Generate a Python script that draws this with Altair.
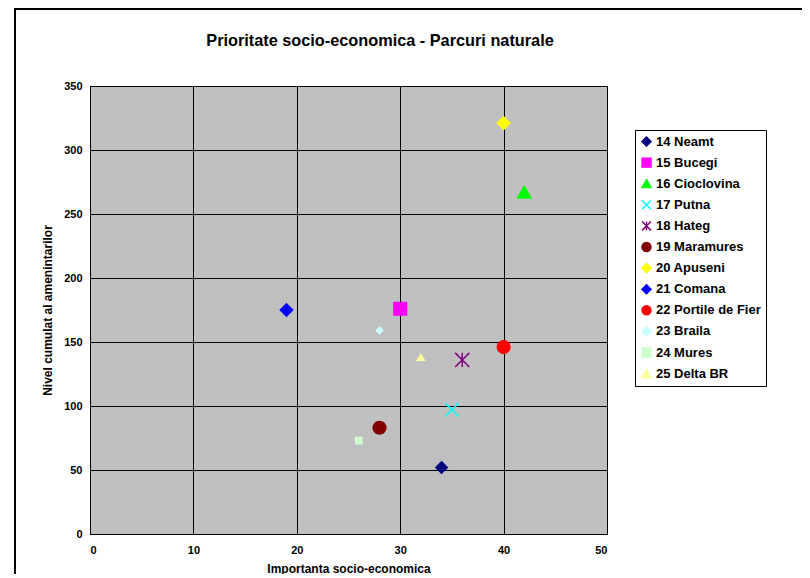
import altair as alt
import pandas as pd

names = ["14 Neamt", "15 Bucegi", "16 Cioclovina", "17 Putna", "18 Hateg", "19 Maramures",
         "20 Apuseni", "21 Comana", "22 Portile de Fier", "23 Braila", "24 Mures", "25 Delta BR"]
importanta = [34, 30, 42, 35, 36, 28, 40, 19, 40, 28, 26, 32]
nivel = [52, 176, 267, 97, 136, 83, 321, 175, 146, 159, 73, 138]
colors = ["#000080", "#FF00FF", "#00FF00", "#00FFFF", "#800080", "#800000",
          "#FFFF00", "#0000FF", "#FF0000", "#CCFFFF", "#CCFFCC", "#FFFF99"]
shapes = ["diamond", "square", "triangle-up", "M-1,-1L1,1M-1,1L1,-1",
          "M-1,-1L1,1M-1,1L1,-1M0,-1L0,1", "circle", "diamond", "diamond",
          "circle", "diamond", "square", "triangle-up"]
sizes = [130, 160, 180, 180, 200, 160, 160, 150, 160, 40, 40, 45]
title_text = "Prioritate socio-economica - Parcuri naturale"

df = pd.DataFrame({"name": names, "x": importanta, "y": nivel, "sz": sizes})

F = "Liberation Sans"

frame = alt.Chart(pd.DataFrame({"a": [0]})).mark_rect(
    filled=False, stroke="black", strokeWidth=2
).encode(x=alt.value(-75), x2=alt.value(900), y=alt.value(-77), y2=alt.value(700))

title = alt.Chart(pd.DataFrame({"t": [title_text]})).mark_text(
    font=F, fontSize=16.3, fontWeight="bold", color="black", align="center", baseline="alphabetic"
).encode(text="t:N", x=alt.value(290), y=alt.value(-40))

base = alt.Chart(df)

points = base.mark_point(filled=True, opacity=1, strokeWidth=1.5).encode(
    x=alt.X("x:Q", scale=alt.Scale(domain=[0, 50]),
            axis=alt.Axis(values=[0, 10, 20, 30, 40, 50], title="Importanta socio-economica",
                          labelFont=F, labelFontWeight="bold", labelFontSize=11,
                          labelColor="black", labelPadding=10, ticks=False,
                          titleFont=F, titleFontWeight="bold", titleFontSize=12,
                          titleColor="black", titlePadding=8,
                          domainColor="black", gridColor="black", gridOpacity=1)),
    y=alt.Y("y:Q", scale=alt.Scale(domain=[0, 350]),
            axis=alt.Axis(values=[0, 50, 100, 150, 200, 250, 300, 350],
                          title="Nivel cumulat al amenintarilor",
                          labelFont=F, labelFontWeight="bold", labelFontSize=11,
                          labelColor="black", labelPadding=8, ticks=False,
                          titleFont=F, titleFontWeight="bold", titleFontSize=12,
                          titleColor="black", titlePadding=9,
                          domainColor="black", gridColor="black", gridOpacity=1)),
    fill=alt.Fill("name:N", scale=alt.Scale(domain=names, range=colors), title=None),
    stroke=alt.Stroke("name:N", scale=alt.Scale(domain=names, range=colors), title=None),
    shape=alt.Shape("name:N", scale=alt.Scale(domain=names, range=shapes), title=None),
    size=alt.Size("sz:Q", scale=None, legend=None),
)

chart = alt.layer(frame, title, points).properties(
    width=517, height=448,
    padding={"left": 82, "top": 78, "right": 195, "bottom": 40},
    autosize=alt.AutoSizeParams(type="none"),
    background="white",
).configure_view(
    fill="#C0C0C0", stroke=None
).configure_axis(
    domainWidth=1, gridWidth=1
).configure_legend(
    orient="none", legendX=545, legendY=44,
    strokeColor="black", fillColor="white", padding=5, cornerRadius=0,
    labelFont=F, labelFontWeight="bold", labelFontSize=13, labelColor="black",
    labelOffset=3, symbolSize=80, symbolStrokeWidth=1.5, rowPadding=6.1,
    symbolOpacity=1
)

chart.save("out.html", embed_options={"renderer": "svg", "actions": False})
